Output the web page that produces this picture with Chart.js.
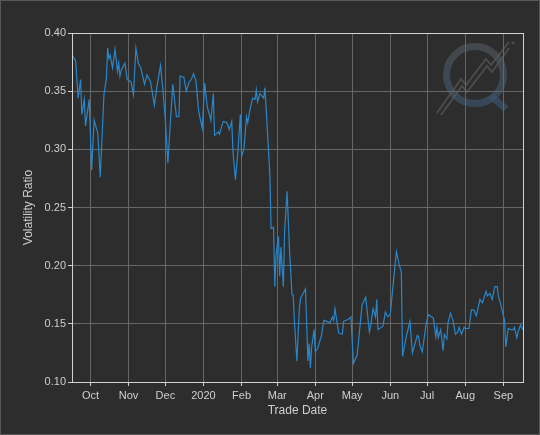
<!DOCTYPE html>
<html>
<head>
    <title>Volatility Ratio</title>
    <script src="https://cdn.jsdelivr.net/npm/chart.js"></script>
    <style>
        body { margin: 0; background: #2d2d2d; }
    </style>
</head>
<body>
    <canvas id="volChart" width="540" height="435"></canvas>

    <script>
        // dati
        const tradeDates = [
            '2019-09-16','2019-09-19','2019-09-21','2019-09-23','2019-09-24','2019-09-26','2019-09-27','2019-09-30',
            '2019-10-02','2019-10-04','2019-10-07','2019-10-09','2019-10-12','2019-10-14','2019-10-15','2019-10-16',
            '2019-10-17','2019-10-19','2019-10-21','2019-10-23','2019-10-24','2019-10-25','2019-10-26','2019-10-29',
            '2019-10-31','2019-11-03','2019-11-05','2019-11-07','2019-11-09','2019-11-11','2019-11-14','2019-11-16',
            '2019-11-19','2019-11-20','2019-11-22','2019-11-24','2019-11-27','2019-11-29','2019-12-01','2019-12-03',
            '2019-12-07','2019-12-10','2019-12-12','2019-12-13','2019-12-16','2019-12-18','2019-12-20','2019-12-22',
            '2019-12-24','2019-12-26','2019-12-28','2019-12-31','2020-01-02','2020-01-04','2020-01-07','2020-01-09',
            '2020-01-10','2020-01-13','2020-01-14','2020-01-17','2020-01-20','2020-01-22','2020-01-24','2020-01-25',
            '2020-01-27','2020-01-29','2020-01-31','2020-02-01','2020-02-03','2020-02-05','2020-02-06','2020-02-08',
            '2020-02-10','2020-02-12','2020-02-13','2020-02-14','2020-02-16','2020-02-19','2020-02-20','2020-02-21',
            '2020-02-24','2020-02-25','2020-02-27','2020-02-28','2020-02-29','2020-03-02','2020-03-03','2020-03-04',
            '2020-03-06','2020-03-07','2020-03-09','2020-03-11','2020-03-13','2020-03-14','2020-03-15','2020-03-17',
            '2020-03-19','2020-03-20','2020-03-22','2020-03-24','2020-03-26','2020-03-27','2020-03-28','2020-03-29',
            '2020-03-31','2020-04-01','2020-04-03','2020-04-06','2020-04-08','2020-04-13','2020-04-15','2020-04-16',
            '2020-04-17','2020-04-20','2020-04-23','2020-04-24','2020-04-28','2020-04-30','2020-05-02','2020-05-05',
            '2020-05-06','2020-05-09','2020-05-12','2020-05-15','2020-05-16','2020-05-18','2020-05-20','2020-05-21',
            '2020-05-22','2020-05-26','2020-05-28','2020-05-30','2020-06-01','2020-06-04','2020-06-06','2020-06-08',
            '2020-06-10','2020-06-11','2020-06-14','2020-06-17','2020-06-19','2020-06-23','2020-06-24','2020-06-25',
            '2020-06-27','2020-06-29','2020-06-30','2020-07-02','2020-07-06','2020-07-08','2020-07-09','2020-07-10',
            '2020-07-12','2020-07-14','2020-07-15','2020-07-17','2020-07-18','2020-07-20','2020-07-22','2020-07-24',
            '2020-07-26','2020-07-27','2020-07-29','2020-07-31','2020-08-01','2020-08-04','2020-08-06','2020-08-08',
            '2020-08-10','2020-08-13','2020-08-15','2020-08-17','2020-08-18','2020-08-19','2020-08-21','2020-08-23',
            '2020-08-25','2020-08-27','2020-08-28','2020-08-30','2020-09-02','2020-09-03','2020-09-05','2020-09-07',
            '2020-09-09','2020-09-10','2020-09-12','2020-09-13','2020-09-15','2020-09-17'
        ];
        const volRatio = [
            0.381,0.376,0.344,0.360,0.330,0.343,0.320,0.343,
            0.282,0.325,0.314,0.276,0.347,0.361,0.387,0.378,
            0.381,0.370,0.386,0.367,0.374,0.363,0.368,0.374,
            0.360,0.358,0.347,0.387,0.374,0.370,0.356,0.364,
            0.358,0.351,0.338,0.353,0.372,0.351,0.325,0.288,
            0.356,0.328,0.328,0.363,0.362,0.350,0.357,0.360,
            0.365,0.358,0.333,0.318,0.357,0.337,0.325,0.348,
            0.312,0.315,0.313,0.324,0.323,0.317,0.324,0.298,
            0.274,0.298,0.330,0.294,0.301,0.328,0.323,0.335,
            0.344,0.343,0.351,0.341,0.348,0.344,0.353,0.335,
            0.278,0.232,0.233,0.182,0.209,0.225,0.191,0.216,
            0.182,0.229,0.264,0.214,0.175,0.175,0.152,0.118,
            0.163,0.172,0.176,0.180,0.118,0.133,0.112,0.130,
            0.145,0.126,0.129,0.140,0.153,0.151,0.156,0.153,
            0.163,0.142,0.141,0.152,0.154,0.156,0.116,0.123,
            0.133,0.166,0.173,0.143,0.148,0.163,0.156,0.171,
            0.145,0.148,0.160,0.156,0.158,0.191,0.212,0.202,
            0.194,0.122,0.139,0.152,0.125,0.140,0.139,0.132,
            0.126,0.141,0.149,0.158,0.155,0.139,0.147,0.138,
            0.145,0.127,0.141,0.137,0.151,0.159,0.153,0.141,
            0.143,0.147,0.141,0.147,0.146,0.146,0.162,0.162,
            0.157,0.171,0.168,0.175,0.178,0.174,0.176,0.171,
            0.182,0.182,0.174,0.166,0.153,0.130,0.146,0.145,
            0.145,0.147,0.138,0.143,0.149,0.145
        ];
        const tickDates = ['2019-10-01','2019-11-01','2019-12-01','2020-01-01','2020-02-01','2020-03-01',
                           '2020-04-01','2020-05-01','2020-06-01','2020-07-01','2020-08-01','2020-09-01'];
        const tickLabels = ['Oct','Nov','Dec','2020','Feb','Mar','Apr','May','Jun','Jul','Aug','Sep'];
        const axisStart = '2019-09-16';
        const axisEnd = '2020-09-17';

        // data -> giorni
        function toDay(s) {
            const p = s.split('-');
            return Date.UTC(+p[0], +p[1] - 1, +p[2]) / 86400000;
        }

        const points = tradeDates.map((d, i) => ({ x: toDay(d), y: volRatio[i] }));
        const tickDays = tickDates.map(toDay);

        const textColor = '#cfcfcf';
        const gridColor = '#666666';
        const frameColor = '#d2d2d2';

        // sfondo, cornice e logo
        const decorPlugin = {
            id: 'decor',
            beforeDraw(chart) {
                const c = chart.ctx;
                c.save();
                c.fillStyle = '#2d2d2d';
                c.fillRect(0, 0, chart.width, chart.height);
                c.strokeStyle = '#585858';
                c.lineWidth = 1;
                c.strokeRect(0.5, 0.5, chart.width - 1, chart.height - 1);

                // logo filigrana
                const cx = 475, cy = 75;
                const g = c.createLinearGradient(0, cy - 32, 0, cy + 32);
                g.addColorStop(0, 'rgba(85,90,96,0.6)');
                g.addColorStop(1, 'rgba(58,82,106,0.7)');
                c.strokeStyle = g;
                c.lineWidth = 7;
                c.beginPath();
                c.arc(cx, cy, 28.5, 0, Math.PI * 2);
                c.stroke();
                c.strokeStyle = 'rgba(58,82,106,0.7)';
                c.beginPath();
                c.moveTo(491, 96);
                c.lineTo(506, 109);
                c.stroke();
                c.strokeStyle = 'rgba(90,90,90,0.7)';
                c.lineWidth = 1.8;
                c.beginPath();
                c.moveTo(437, 113);
                c.lineTo(461, 79);
                c.lineTo(466, 85);
                c.lineTo(486, 59);
                c.lineTo(491, 65);
                c.lineTo(509, 42);
                c.stroke();
                c.beginPath();
                c.moveTo(441, 115);
                c.lineTo(462, 86);
                c.lineTo(467, 92);
                c.lineTo(487, 66);
                c.lineTo(492, 72);
                c.lineTo(509, 48);
                c.stroke();
                c.fillStyle = 'rgba(90,90,90,0.7)';
                c.beginPath();
                c.arc(513, 43, 1.5, 0, Math.PI * 2);
                c.fill();
                c.restore();
            },
            afterDraw(chart) {
                const a = chart.chartArea;
                const c = chart.ctx;
                c.save();
                c.strokeStyle = frameColor;
                c.lineWidth = 1;
                c.strokeRect(Math.round(a.left) + 0.5, Math.round(a.top) + 0.5,
                    Math.round(a.right - a.left), Math.round(a.bottom - a.top));
                c.restore();
            }
        };

        const ctx = document.getElementById('volChart').getContext('2d');
        const chart = new Chart(ctx, {
            type: 'line',
            data: {
                datasets: [{
                    label: 'Volatility Ratio',
                    data: points,
                    borderColor: '#2a86c8',
                    borderWidth: 1.2,
                    pointRadius: 0,
                    tension: 0,
                    fill: false
                }]
            },
            options: {
                responsive: false,
                animation: false,
                layout: { padding: { left: 0, top: 33, right: 17, bottom: 0 } },
                plugins: {
                    legend: { display: false },
                    tooltip: { enabled: false }
                },
                scales: {
                    x: {
                        type: 'linear',
                        min: toDay(axisStart),
                        max: toDay(axisEnd),
                        afterBuildTicks(scale) {
                            scale.ticks = tickDays.map(v => ({ value: v }));
                        },
                        afterFit(scale) { scale.height = 53; },
                        ticks: {
                            autoSkip: false,
                            maxRotation: 0,
                            color: textColor,
                            padding: 3,
                            font: { family: 'Liberation Sans', size: 11 },
                            callback: (v, i) => tickLabels[i]
                        },
                        grid: { color: gridColor, tickColor: frameColor, tickLength: 4 },
                        border: { color: frameColor },
                        title: {
                            display: true,
                            text: 'Trade Date',
                            color: textColor,
                            padding: { top: 0, bottom: 17 },
                            font: { family: 'Liberation Sans', size: 12 }
                        }
                    },
                    y: {
                        min: 0.10,
                        max: 0.40,
                        afterFit(scale) { scale.width = 72; },
                        ticks: {
                            stepSize: 0.05,
                            color: textColor,
                            padding: 2,
                            font: { family: 'Liberation Sans', size: 11 },
                            callback: v => v.toFixed(2)
                        },
                        grid: { color: gridColor, tickColor: frameColor, tickLength: 4 },
                        border: { color: frameColor },
                        title: {
                            display: true,
                            text: 'Volatility Ratio',
                            color: textColor,
                            padding: { top: 21, bottom: 0 },
                            font: { family: 'Liberation Sans', size: 12 }
                        }
                    }
                }
            },
            plugins: [decorPlugin]
        });
    </script>
</body>
</html>
